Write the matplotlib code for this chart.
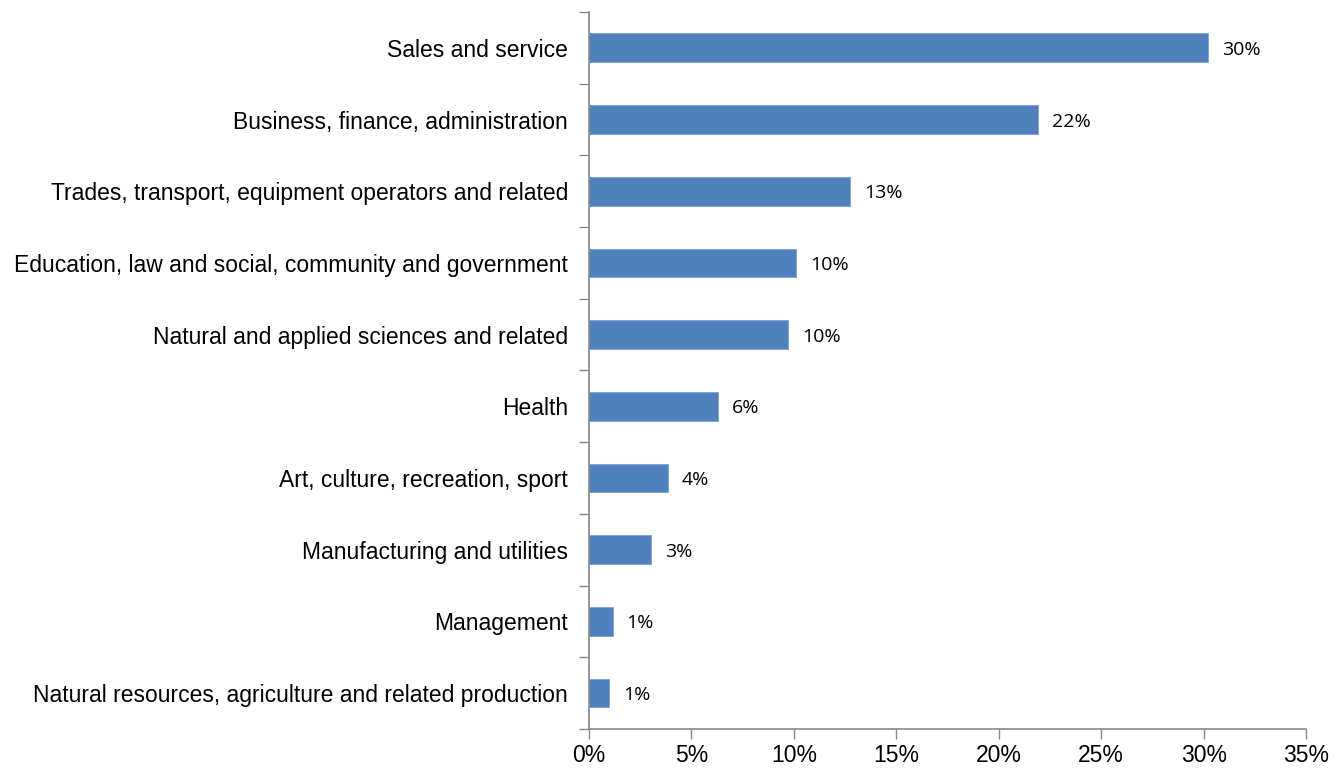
import matplotlib
matplotlib.use("Agg")
import matplotlib.pyplot as plt
from matplotlib.ticker import FuncFormatter, FixedLocator

categories = [
    "Sales and service",
    "Business, finance, administration",
    "Trades, transport, equipment operators and related",
    "Education, law and social, community and government",
    "Natural and applied sciences and related",
    "Health",
    "Art, culture, recreation, sport",
    "Manufacturing and utilities",
    "Management",
    "Natural resources, agriculture and related production",
]
values = [30.2, 21.9, 12.75, 10.1, 9.7, 6.3, 3.85, 3.05, 1.15, 0.98]
value_labels = ["30%", "22%", "13%", "10%", "10%", "6%", "4%", "3%", "1%", "1%"]
xticks = [0, 5, 10, 15, 20, 25, 30, 35]

fig = plt.figure(figsize=(13.42, 7.68), dpi=100)
ax = fig.add_axes([0.4389, 0.0508, 0.9732 - 0.4389, 0.9844 - 0.0508])

n = len(categories)
ypos = list(range(n))
ax.barh(ypos, values, height=0.4, color="#4F81BD", edgecolor="#7A9FD0", linewidth=0.6)
ax.set_ylim(n - 0.5, -0.5)
ax.set_xlim(0, 35)

for y, v, lab in zip(ypos, values, value_labels):
    ax.annotate(lab, (v, y), xytext=(14, -2), textcoords="offset pixels",
                va="center", ha="left", fontsize=14, family="Open Sans", color="black")

ax.set_yticks(ypos)
ax.set_yticklabels(categories, fontsize=16.5, family="Liberation Sans")
ax.yaxis.set_minor_locator(FixedLocator([i - 0.5 for i in range(n + 1)]))
ax.tick_params(axis="y", which="major", length=0, pad=15)
ax.tick_params(axis="y", which="minor", length=7, width=1, color="#888888")

ax.set_xticks(xticks)
ax.xaxis.set_major_formatter(FuncFormatter(lambda x, p: f"{int(x)}%"))
ax.tick_params(axis="x", length=7, width=1, color="#888888", labelsize=16.5, pad=4)
for lbl in ax.get_xticklabels():
    lbl.set_family("Liberation Sans")

for s in ["top", "right"]:
    ax.spines[s].set_visible(False)
for s in ["left", "bottom"]:
    ax.spines[s].set_color("#888888")
    ax.spines[s].set_linewidth(1.2)

fig.savefig("out.png", dpi=100)
